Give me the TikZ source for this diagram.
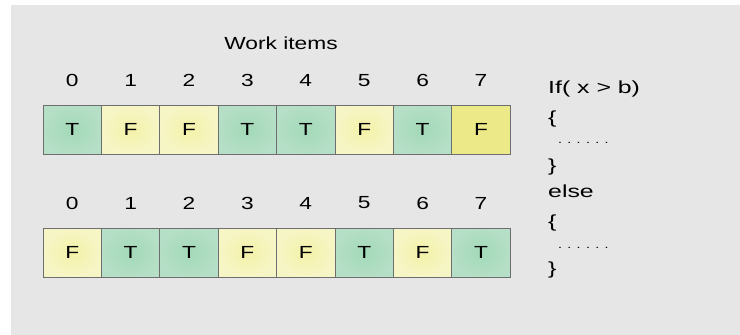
\documentclass[tikz,border=0pt]{standalone}
\usepackage{graphicx}
\usepackage{fontspec}
\setmainfont{Liberation Sans}
\definecolor{bggray}{HTML}{E6E6E6}
\definecolor{tgreen}{HTML}{B5DFC6}
\definecolor{tgreenin}{HTML}{A2D9B8}
\definecolor{fyellow}{HTML}{F6F5C6}
\definecolor{fyellowin}{HTML}{F4F2A8}
\definecolor{fyellowdark}{HTML}{ECEA88}
\definecolor{cellborder}{HTML}{6E6E6E}
\newcommand\widetext[1]{\scalebox{1.3}[1]{#1}}
\newcommand\codetext[1]{\scalebox{1.42}[1]{#1}}
\newcommand\lblfont{\fontsize{17.5}{20}\selectfont}
\begin{document}
\begin{tikzpicture}[x=1pt,y=-1pt,
  cell/.style={draw=cellborder, line width=0.8pt, minimum width=58.4pt,
    minimum height=49pt, inner sep=0pt, font=\lblfont},
  tcell/.style={cell, inner color=tgreenin, outer color=tgreen},
  fcell/.style={cell, inner color=fyellowin, outer color=fyellow},
  fcelldark/.style={cell, fill=fyellowdark},
  lbl/.style={inner sep=0pt, font=\lblfont},
  codeline/.style={inner sep=0pt, anchor=west, font=\lblfont}]
\useasboundingbox (0,0) rectangle (740,335);
\fill[bggray] (11,5) rectangle (740,335);
\node[lbl] (title) at (281,43.5) {\widetext{Work items}};
% row 1
\foreach \v [count=\i from 0] in {T,F,F,T,T,F,T,F}{
  \pgfmathsetmacro\cx{43+58.4*\i+29.2}
  \node[lbl] (na\i) at (\cx,80.5) {\widetext{\i}};
}
\foreach \v/\s [count=\i from 0] in {T/tcell,F/fcell,F/fcell,T/tcell,T/tcell,F/fcell,T/tcell,F/fcelldark}{
  \pgfmathsetmacro\cx{43+58.4*\i+29.2}
  \node[\s] (ca\i) at (\cx,129.5) {\widetext{\v}};
}
% row 2
\foreach \v [count=\i from 0] in {F,T,T,F,F,T,F,T}{
  \pgfmathsetmacro\cx{43+58.4*\i+29.2}
  \node[lbl] (nb\i) at (\cx,203) {\widetext{\i}};
}
\foreach \v/\s [count=\i from 0] in {F/fcell,T/tcell,T/tcell,F/fcell,F/fcell,T/tcell,F/fcell,T/tcell}{
  \pgfmathsetmacro\cx{43+58.4*\i+29.2}
  \node[\s] (cb\i) at (\cx,252.5) {\widetext{\v}};
}
% code
\node[codeline] (c1) at (548,89) {\codetext{If( x > b)}};
\node[codeline] (c2) at (548,119) {\codetext{\{}};
\node[codeline,font=\fontsize{11}{12}\selectfont] (c3) at (558,143) {\widetext{. . . . . .}};
\node[codeline] (c4) at (548,167) {\codetext{\}}};
\node[codeline] (c5) at (548,191) {\codetext{else}};
\node[codeline] (c6) at (548,223) {\codetext{\{}};
\node[codeline,font=\fontsize{11}{12}\selectfont] (c7) at (558,248) {\widetext{. . . . . .}};
\node[codeline] (c8) at (548,270) {\codetext{\}}};
\end{tikzpicture}
\end{document}
